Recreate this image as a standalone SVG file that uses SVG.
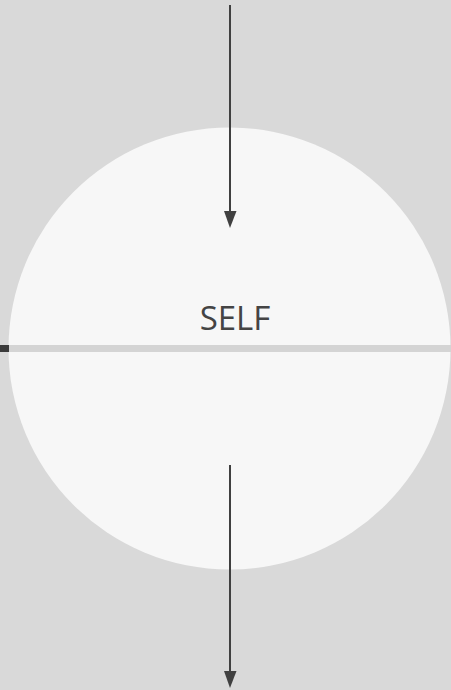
<svg xmlns="http://www.w3.org/2000/svg" width="451" height="690" viewBox="0 0 451 690">
<style>
.conn{stroke:#404040;stroke-width:2;fill:none}
.head{fill:#404040}
.lbl{font-family:"Open Sans",sans-serif;font-size:33px;fill:#444444}
</style>
<rect width="451" height="690" fill="#d9d9d9"/>
<g id="self">
<circle cx="229.5" cy="348.5" r="221" fill="#f7f7f7"/>
<rect x="0" y="345" width="451" height="7" fill="#d4d4d4"/>
<rect x="0" y="345" width="9" height="7" fill="#3a3a3a"/>
<text class="lbl" x="235" y="330" text-anchor="middle">SELF</text>
</g>
<g id="connectors">
<line class="conn" x1="230" y1="5" x2="230" y2="212"/>
<path class="head" d="M224,211 L236.5,211 L230,228 Z"/>
<line class="conn" x1="230" y1="465" x2="230" y2="672"/>
<path class="head" d="M224,671 L236.5,671 L230,688 Z"/>
</g>
</svg>
